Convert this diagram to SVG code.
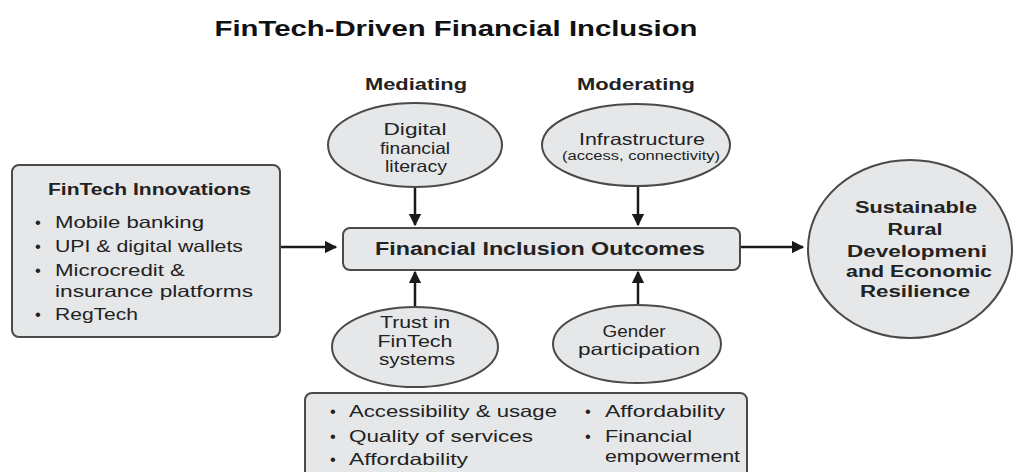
<svg xmlns="http://www.w3.org/2000/svg" width="1014" height="472" viewBox="0 0 1014 472">
  <style>
    text { font-family: "Liberation Sans", Arial, sans-serif; fill: #222; }
    .title { font-size: 22px; font-weight: bold; fill: #111; }
    .head { font-size: 16px; font-weight: bold; }
    .lbl { font-size: 16.5px; }
    .small { font-size: 12px; }
    .c { text-anchor: middle; }
    .shape { fill: #e5e7e9; stroke: #4a4a4a; stroke-width: 2; }
    .conn { stroke: #1a1a1a; stroke-width: 2.5; fill: none; marker-end: url(#arrow); }
  </style>
  <defs>
    <marker id="arrow" viewBox="0 0 10 10" refX="9" refY="5" markerWidth="5" markerHeight="5" orient="auto" markerUnits="strokeWidth">
      <path d="M0,0 L10,5 L0,10 z" fill="#1a1a1a"/>
    </marker>
  </defs>
  <rect width="1014" height="472" fill="#ffffff"/>

  <text class="title c" x="456" y="36" textLength="483" lengthAdjust="spacingAndGlyphs">FinTech-Driven Financial Inclusion</text>
  <text class="head c" x="416" y="90" textLength="102" lengthAdjust="spacingAndGlyphs">Mediating</text>
  <text class="head c" x="636" y="90" textLength="118" lengthAdjust="spacingAndGlyphs">Moderating</text>

  <g id="connectors">
    <line class="conn" x1="280" y1="247" x2="336" y2="247"/>
    <line class="conn" x1="740" y1="247" x2="803" y2="247"/>
    <line class="conn" x1="415" y1="187" x2="415" y2="225"/>
    <line class="conn" x1="638" y1="186" x2="638" y2="225"/>
    <line class="conn" x1="415" y1="306" x2="415" y2="272"/>
    <line class="conn" x1="638" y1="304" x2="638" y2="272"/>
  </g>

  <g id="fintech-innovations">
    <rect class="shape" x="12" y="165" width="268" height="172" rx="7"/>
    <text class="head" x="48" y="195" textLength="203" lengthAdjust="spacingAndGlyphs">FinTech Innovations</text>
    <text class="lbl" x="35" y="228">•</text><text class="lbl" x="55" y="228" textLength="149" lengthAdjust="spacingAndGlyphs">Mobile banking</text>
    <text class="lbl" x="35" y="252">•</text><text class="lbl" x="55" y="252" textLength="188" lengthAdjust="spacingAndGlyphs">UPI &amp; digital wallets</text>
    <text class="lbl" x="35" y="276">•</text><text class="lbl" x="55" y="276" textLength="130" lengthAdjust="spacingAndGlyphs">Microcredit &amp;</text>
    <text class="lbl" x="55" y="297" textLength="198" lengthAdjust="spacingAndGlyphs">insurance platforms</text>
    <text class="lbl" x="35" y="320">•</text><text class="lbl" x="55" y="320" textLength="83" lengthAdjust="spacingAndGlyphs">RegTech</text>
  </g>

  <g id="financial-inclusion-outcomes">
    <rect class="shape" x="343" y="228" width="397" height="42" rx="7"/>
    <text class="c" x="540" y="255" textLength="330" lengthAdjust="spacingAndGlyphs" style="font-size:18px;font-weight:bold">Financial Inclusion Outcomes</text>
  </g>

  <g id="digital-financial-literacy">
    <ellipse class="shape" cx="415" cy="145" rx="87" ry="42"/>
    <text class="lbl c" x="415" y="135" textLength="63" lengthAdjust="spacingAndGlyphs">Digital</text>
    <text class="lbl c" x="415" y="154" textLength="70" lengthAdjust="spacingAndGlyphs">financial</text>
    <text class="lbl c" x="416" y="172" textLength="62" lengthAdjust="spacingAndGlyphs">literacy</text>
  </g>

  <g id="infrastructure">
    <ellipse class="shape" cx="636" cy="145" rx="94" ry="41"/>
    <text class="lbl c" x="642" y="145" textLength="126" lengthAdjust="spacingAndGlyphs">Infrastructure</text>
    <text class="small c" x="641" y="160" textLength="158" lengthAdjust="spacingAndGlyphs">(access, connectivity)</text>
  </g>

  <g id="trust-in-fintech">
    <ellipse class="shape" cx="415" cy="347" rx="83" ry="40"/>
    <text class="lbl c" x="415" y="328" textLength="70" lengthAdjust="spacingAndGlyphs">Trust in</text>
    <text class="lbl c" x="415" y="347" textLength="75" lengthAdjust="spacingAndGlyphs">FinTech</text>
    <text class="lbl c" x="417" y="365" textLength="76" lengthAdjust="spacingAndGlyphs">systems</text>
  </g>

  <g id="gender-participation">
    <ellipse class="shape" cx="637" cy="344" rx="84" ry="39"/>
    <text class="lbl c" x="634" y="337" textLength="63" lengthAdjust="spacingAndGlyphs">Gender</text>
    <text class="lbl c" x="639" y="355" textLength="122" lengthAdjust="spacingAndGlyphs">participation</text>
  </g>

  <g id="sustainable-rural-development">
    <ellipse class="shape" cx="910" cy="249" rx="102" ry="89"/>
    <text class="head c" x="916" y="213" textLength="122" lengthAdjust="spacingAndGlyphs">Sustainable</text>
    <text class="head c" x="915" y="235" textLength="55" lengthAdjust="spacingAndGlyphs">Rural</text>
    <text class="head c" x="917" y="257" textLength="140" lengthAdjust="spacingAndGlyphs">Developmeni</text>
    <text class="head c" x="919" y="277" textLength="146" lengthAdjust="spacingAndGlyphs">and Economic</text>
    <text class="head c" x="915" y="297" textLength="110" lengthAdjust="spacingAndGlyphs">Resilience</text>
  </g>

  <g id="outcome-dimensions">
    <rect class="shape" x="305" y="393" width="442" height="90" rx="7"/>
    <text class="lbl" x="330" y="417">•</text><text class="lbl" x="349" y="417" textLength="208" lengthAdjust="spacingAndGlyphs">Accessibility &amp; usage</text>
    <text class="lbl" x="330" y="442">•</text><text class="lbl" x="349" y="442" textLength="184" lengthAdjust="spacingAndGlyphs">Quality of services</text>
    <text class="lbl" x="330" y="465">•</text><text class="lbl" x="349" y="465" textLength="119" lengthAdjust="spacingAndGlyphs">Affordability</text>
    <text class="lbl" x="585" y="417">•</text><text class="lbl" x="605" y="417" textLength="120" lengthAdjust="spacingAndGlyphs">Affordability</text>
    <text class="lbl" x="585" y="442">•</text><text class="lbl" x="605" y="442" textLength="87" lengthAdjust="spacingAndGlyphs">Financial</text>
    <text class="lbl" x="605" y="462" textLength="135" lengthAdjust="spacingAndGlyphs">empowerment</text>
  </g>
</svg>
